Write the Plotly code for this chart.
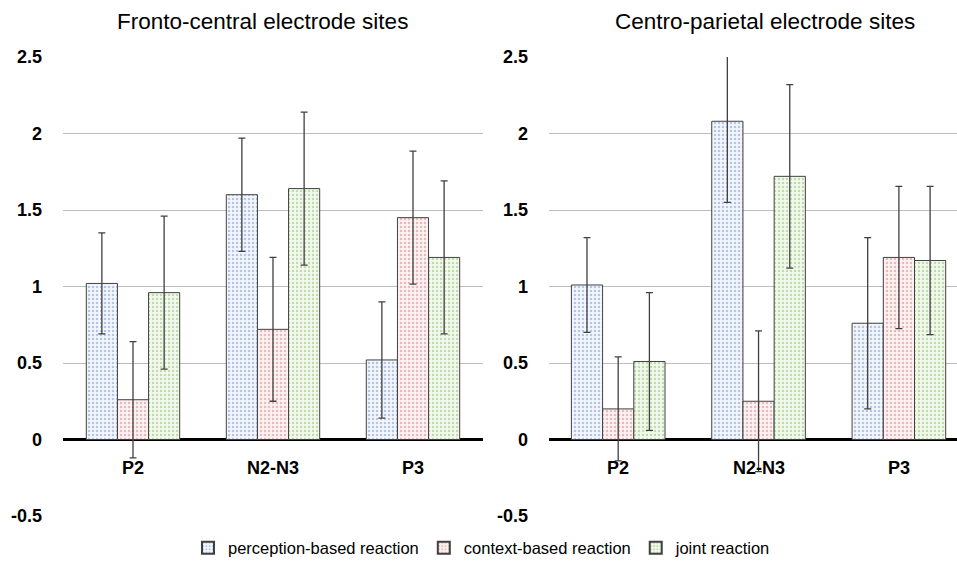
import plotly.graph_objects as go

categories = ["P2", "N2-N3", "P3"]
series_names = ["perception-based reaction", "context-based reaction", "joint reaction"]

# Fronto-central
fc_perception = [1.02, 1.60, 0.52]
fc_context = [0.26, 0.72, 1.45]
fc_joint = [0.96, 1.64, 1.19]
fc_perception_err = [0.33, 0.37, 0.38]
fc_context_err = [0.38, 0.47, 0.435]
fc_joint_err = [0.50, 0.50, 0.50]

# Centro-parietal
cp_perception = [1.01, 2.08, 0.76]
cp_context = [0.20, 0.25, 1.19]
cp_joint = [0.51, 1.72, 1.17]
cp_perception_err = [0.31, 0.53, 0.56]
cp_context_err = [0.34, 0.46, 0.465]
cp_joint_err = [0.45, 0.60, 0.485]

y_ticks = [-0.5, 0, 0.5, 1, 1.5, 2, 2.5]
titles = ["Fronto-central electrode sites", "Centro-parietal electrode sites"]

styles = [
    dict(bg="#f3f6fc", fg="#7396d2"),
    dict(bg="#fcf2f2", fg="#d97f7f"),
    dict(bg="#f3f9ee", fg="#86c064"),
]

FONT = "Liberation Sans, Arial, sans-serif"
fig = go.Figure()

panels = [
    ("x", "y", [fc_perception, fc_context, fc_joint], [fc_perception_err, fc_context_err, fc_joint_err], True),
    ("x2", "y2", [cp_perception, cp_context, cp_joint], [cp_perception_err, cp_context_err, cp_joint_err], False),
]
for xa, ya, vals, errs, show in panels:
    for i in range(3):
        fig.add_trace(go.Bar(
            x=categories, y=vals[i], name=series_names[i], xaxis=xa, yaxis=ya,
            showlegend=show, legendgroup=series_names[i],
            marker=dict(color=styles[i]["bg"],
                        line=dict(color="#404040", width=1),
                        pattern=dict(shape=".", fgcolor=styles[i]["fg"], bgcolor=styles[i]["bg"],
                                     fillmode="overlay", size=4, solidity=0.3)),
            error_y=dict(type="data", array=errs[i], visible=True, color="#404040",
                         thickness=1.3, width=3.5),
        ))

yaxis_common = dict(range=[-0.5, 2.5], tickvals=y_ticks, ticktext=[str(v) for v in y_ticks],
                    showgrid=True, gridcolor="#bdbdbd", gridwidth=1,
                    zeroline=True, zerolinecolor="#000000", zerolinewidth=2.5,
                    showline=False, ticks="", ticklabelstandoff=20, automargin=False,
                    tickfont=dict(family=FONT, size=18, color="#000000", weight="bold"))
xaxis_common = dict(showticklabels=False, showgrid=False, zeroline=False, showline=False,
                    ticks="", automargin=False)

fig.update_layout(
    width=957, height=585,
    paper_bgcolor="white", plot_bgcolor="white",
    margin=dict(l=0, r=0, t=57, b=69, autoexpand=False),
    barmode="group", bargap=0.333, bargroupgap=0,
    xaxis=dict(domain=[63 / 957, 483 / 957], range=[-0.5, 2.5], **xaxis_common),
    xaxis2=dict(domain=[549 / 957, 1.0], range=[-0.493, 2.414], **xaxis_common),
    yaxis=dict(domain=[0, 1], anchor="x", **yaxis_common),
    yaxis2=dict(domain=[0, 1], anchor="x2", **yaxis_common),
    legend=dict(orientation="h", x=482 / 957, xanchor="center", y=-32 / 459, yanchor="middle",
                font=dict(family=FONT, size=16.5, color="#000000"),
                itemsizing="constant", traceorder="normal", itemwidth=30),
    font=dict(family=FONT),
)

annotations = []
for xref, yref in [("x", "y"), ("x2", "y2")]:
    for c in categories:
        annotations.append(dict(x=c, y=0, xref=xref, yref=yref, text=c, showarrow=False,
                                yanchor="middle", yshift=-28,
                                font=dict(family=FONT, size=18, color="#000000", weight="bold")))
annotations.append(dict(x=262 / 957, y=1, xref="paper", yref="paper", xanchor="center",
                        yanchor="middle", yshift=36, text=titles[0], showarrow=False,
                        font=dict(family=FONT, size=22.5, color="#000000")))
annotations.append(dict(x=765 / 957, y=1, xref="paper", yref="paper", xanchor="center",
                        yanchor="middle", yshift=36, text=titles[1], showarrow=False,
                        font=dict(family=FONT, size=22.5, color="#000000")))
fig.update_layout(annotations=annotations)

fig.write_html("out.html", config={"displayModeBar": False},
               post_script="document.body.style.margin='0';document.body.style.padding='0';")
